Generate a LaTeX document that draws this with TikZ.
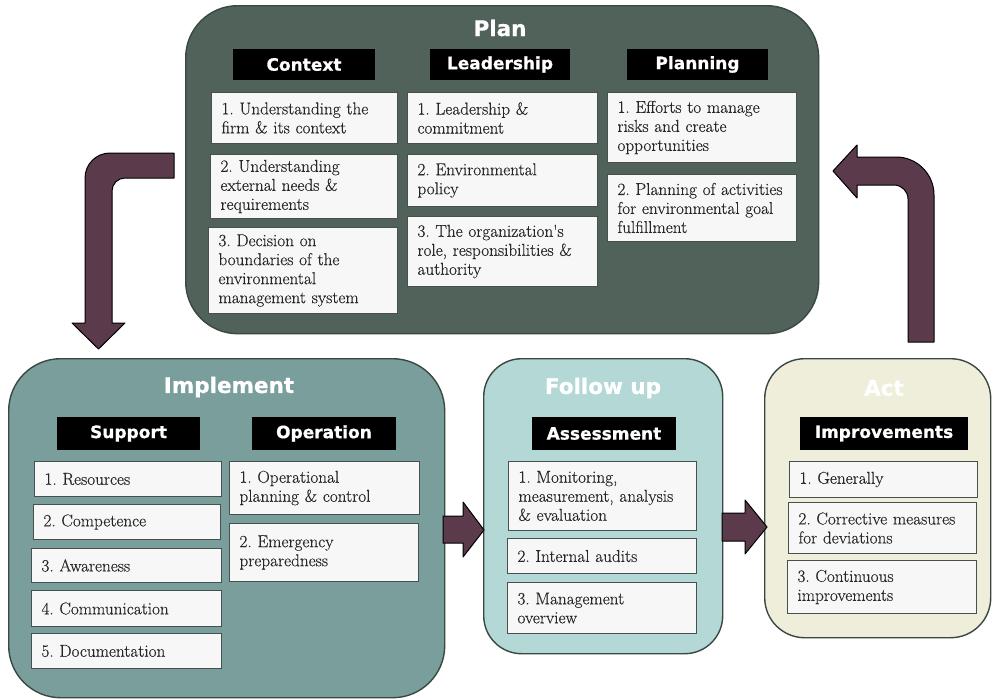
\documentclass[tikz,border=0pt]{standalone}
\usepackage{fontspec}
\newfontfamily\itemfont{Latin Modern Roman}[FakeBold=0.35]
\newfontfamily\headfont{DejaVu Sans}[BoldFeatures={FakeBold=0.7}]
\frenchspacing
\definecolor{planc}{RGB}{80,98,90}
\definecolor{implc}{RGB}{122,158,155}
\definecolor{followc}{RGB}{180,216,213}
\definecolor{actc}{RGB}{238,238,218}
\definecolor{edgec}{RGB}{58,72,66}
\definecolor{itemfill}{RGB}{247,247,247}
\definecolor{itemedge}{RGB}{70,80,76}
\definecolor{arrowc}{RGB}{91,59,75}
\tikzset{
  phase/.style={draw=edgec, line width=1.4pt, rounded corners=#1, anchor=north west, inner sep=0pt},
  phasetitle/.style={text=white, inner sep=0pt, font=\headfont\bfseries\fontsize{21.5}{24}\selectfont},
  hdr/.style={fill=black, text=white, inner sep=0pt, font=\headfont\bfseries\fontsize{17}{20}\selectfont},
  itembx/.style={draw=itemedge, fill=itemfill, line width=1pt, align=left, inner xsep=10pt, inner ysep=2pt,
    text=black!85, font=\itemfont\fontsize{17.2}{19}\selectfont},
  blockarrow/.style={fill=arrowc, draw=black, line width=1pt, line join=round},
}
% one list entry: name, left, top, right, bottom, text
\newcommand\itm[6]{\node[itembx, anchor=north west, minimum width={#4-#2}, minimum height={#5-#3},
  text width={#4-#2-20}] (#1) at (#2,#3) {#6};}
\begin{document}
\begin{tikzpicture}[x=1pt,y=-1pt]
\useasboundingbox (0,0) rectangle (992,699);

% phase panels
\node[phase=52, fill=planc, minimum width=633, minimum height=328] (plan) at (185,5) {};
\node[phase=52, fill=implc, minimum width=436, minimum height=339] (impl) at (8,358) {};
\node[phase=38, fill=followc, minimum width=239, minimum height=295] (follow) at (483,358) {};
\node[phase=40, fill=actc, minimum width=226, minimum height=279] (act) at (764,358) {};

% panel titles
\node[phasetitle] (tplan) at (500,28) {Plan};
\node[phasetitle] (timpl) at (229,387) {Implement};
\node[phasetitle] (tfollow) at (603,388) {Follow up};
\node[phasetitle] (tact) at (884,388) {Act};

% section headers
\node[hdr, minimum width=142, minimum height=31] (hctx) at (304,64.5) {Context};
\node[hdr, minimum width=140, minimum height=31] (hldr) at (500,64.5) {Leadership};
\node[hdr, minimum width=141, minimum height=31] (hpln) at (697.5,64.5) {Planning};
\node[hdr, minimum width=143, minimum height=33] (hsup) at (128.5,433.5) {Support};
\node[hdr, minimum width=144, minimum height=33] (hop) at (324,433.5) {Operation};
\node[hdr, minimum width=144, minimum height=33] (hass) at (604,433.5) {Assessment};
\node[hdr, minimum width=168, minimum height=33] (himp) at (884,433.5) {Improvements};

% Plan items
\itm{ctx1}{211}{92}{397}{143}{1. Understanding the\\firm \& its context}
\itm{ctx2}{210}{154}{397}{218}{2. Understanding\\external needs \&\\requirements}
\itm{ctx3}{208}{227}{397}{313}{3. Decision on\\boundaries of the\\environmental\\management system}
\itm{ldr1}{407}{92}{597}{143}{1. Leadership \&\\commitment}
\itm{ldr2}{407}{154}{597}{206}{2. Environmental\\policy}
\itm{ldr3}{407}{216}{597}{286}{3. The organization's\\role, responsibilities \&\\authority}
\itm{pln1}{607}{92}{796}{162}{1. Efforts to manage\\risks and create\\opportunities}
\itm{pln2}{607}{174}{796}{241}{2. Planning of activities\\for environmental goal\\fulfillment}

% Implement items
\itm{sup1}{34}{461}{221}{496}{1. Resources}
\itm{sup2}{33}{504}{220}{539}{2. Competence}
\itm{sup3}{31}{548}{221}{582}{3. Awareness}
\itm{sup4}{31}{590}{221}{626}{4. Communication}
\itm{sup5}{31}{633}{221}{668}{5. Documentation}
\itm{op1}{229}{461}{419}{514}{1. Operational\\planning \& control}
\itm{op2}{229}{523}{418}{581}{2. Emergency\\preparedness}

% Follow up items
\itm{fu1}{508}{461}{696}{530}{1. Monitoring,\\measurement, analysis\\\& evaluation}
\itm{fu2}{507}{538}{696}{573}{2. Internal audits}
\itm{fu3}{507}{582}{696}{633}{3. Management\\overview}

% Act items
\itm{ac1}{789}{461}{977}{497}{1. Generally}
\itm{ac2}{788}{502}{976}{553}{2. Corrective measures\\for deviations}
\itm{ac3}{787}{560}{976}{613}{3. Continuous\\improvements}

% Plan -> Implement (bent block arrow)
\draw[blockarrow] (174,153) [rounded corners=25] -- (85,153) [sharp corners] -- (85,323) -- (72,323)
  -- (98.5,349) -- (125,323) -- (112,323) [rounded corners=13] -- (112,178) [sharp corners] -- (174,178) -- cycle;
% Implement -> Follow up
\draw[blockarrow] (443,516) -- (463,516) -- (463,502) -- (484,530) -- (463,557) -- (463,543) -- (443,543) -- cycle;
% Follow up -> Act
\draw[blockarrow] (722,513) -- (745,513) -- (745,500) -- (767,527) -- (745,554) -- (745,541) -- (722,541) -- cycle;
% Act -> Plan (bent block arrow)
\draw[blockarrow] (934,342) [rounded corners=38] -- (934,157) [sharp corners] -- (857,157) -- (857,145)
  -- (833,171) -- (857,198) -- (857,185) [rounded corners=14] -- (908,185) [sharp corners] -- (908,342) -- cycle;
\end{tikzpicture}
\end{document}
